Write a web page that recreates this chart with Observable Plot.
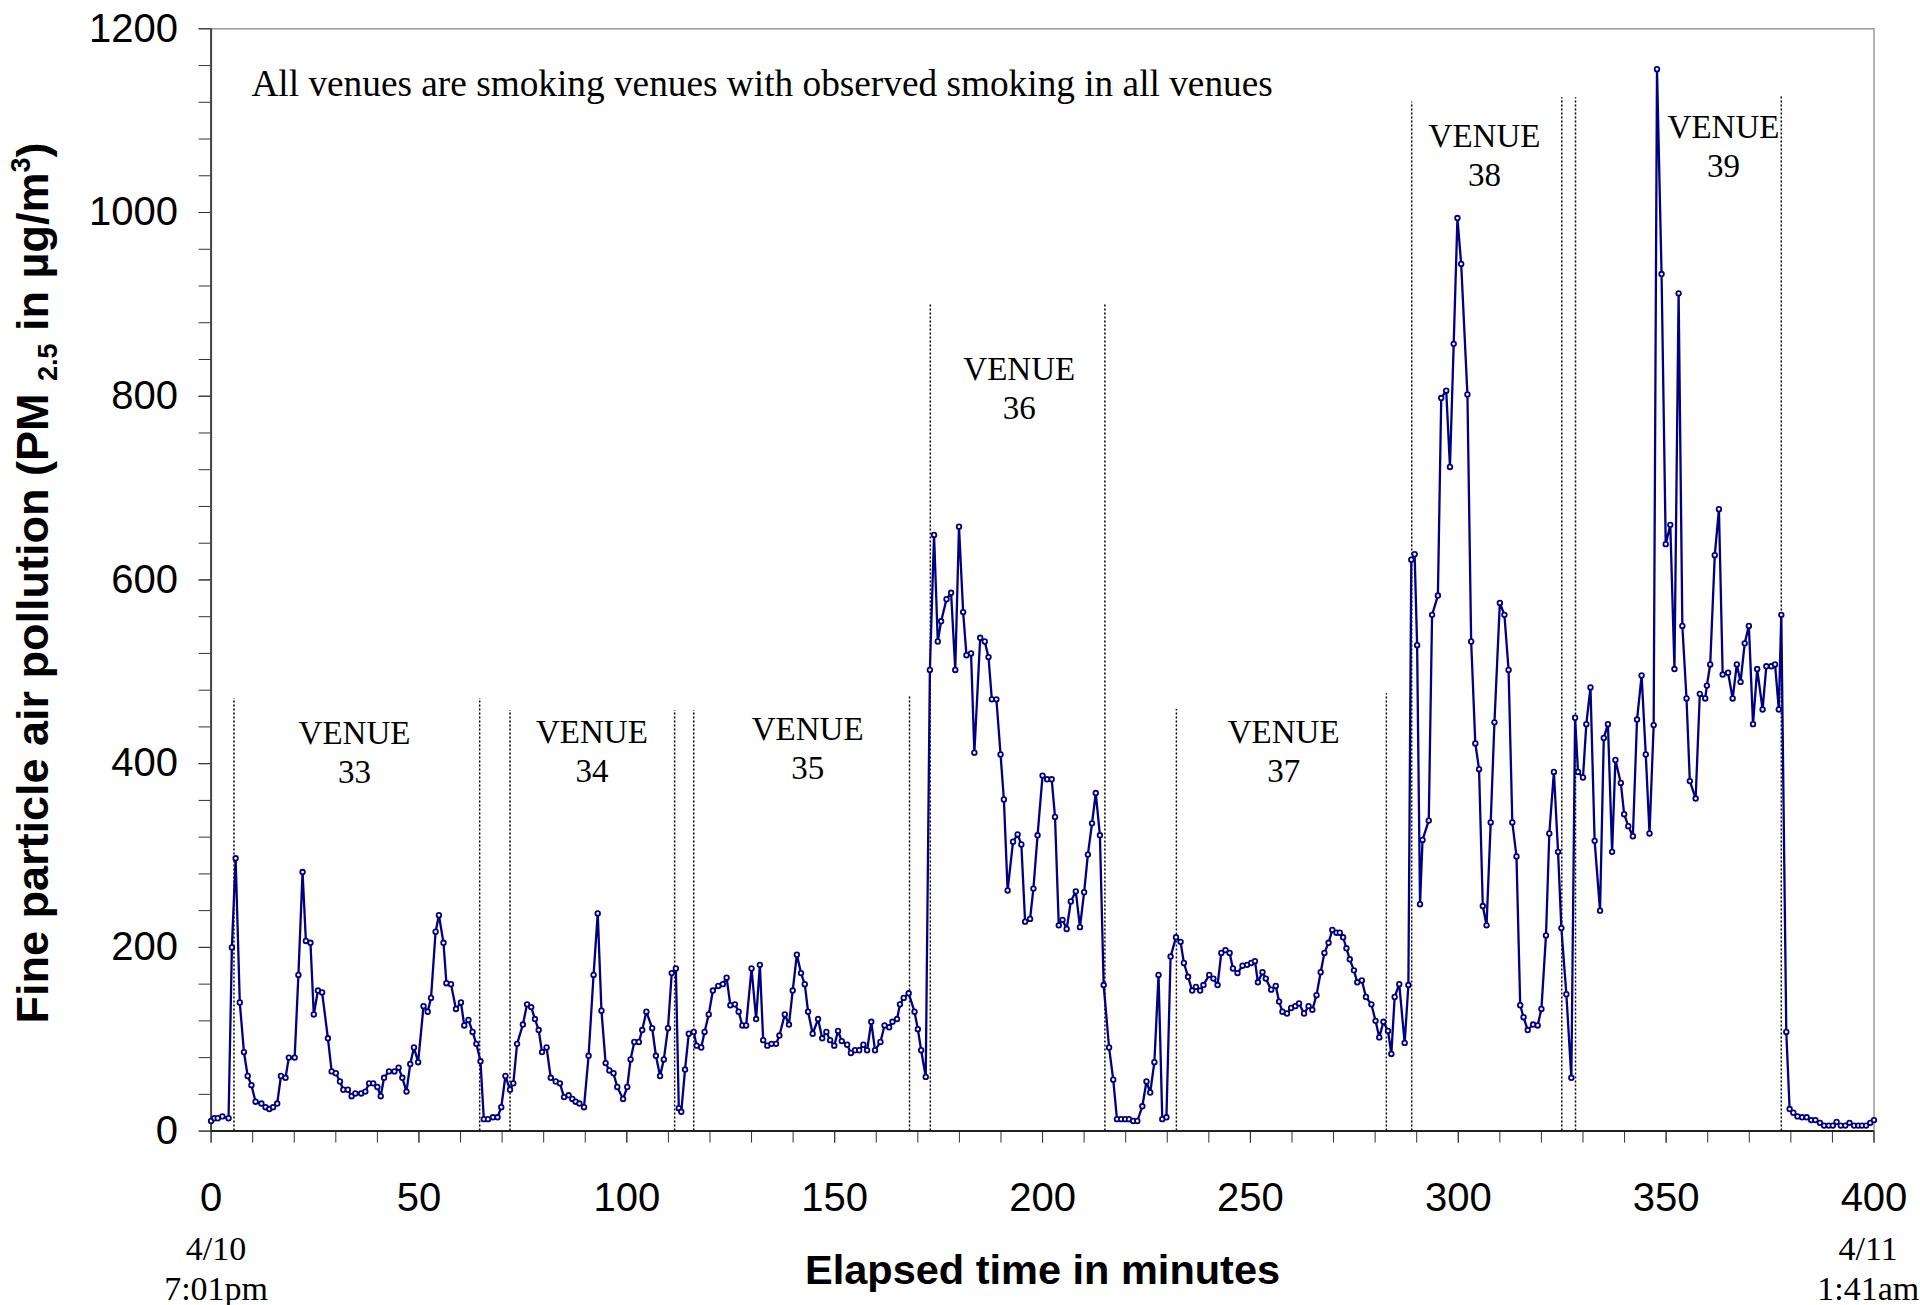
<!DOCTYPE html>
<html><head><meta charset="utf-8">
<script src="https://cdn.jsdelivr.net/npm/d3@7"></script>
<script src="https://cdn.jsdelivr.net/npm/@observablehq/plot@0.6"></script>
<style>html,body{margin:0;padding:0;background:#fff;} svg{display:block}</style>
</head><body><div id="chart"></div>
<script>
const elapsedMinutes = [0,0.8,1.6,2.7,4.2,5.0,5.9,6.9,7.9,8.8,9.7,10.7,12.1,13.1,14.0,14.9,15.9,16.8,17.9,18.7,20.1,21.0,22.0,22.8,23.9,24.7,25.7,26.7,28.1,29.0,30.0,31.0,31.8,32.9,33.8,34.7,36.1,37.1,38.0,39.0,40.0,40.8,41.6,42.8,44.1,45.1,46.0,47.0,47.9,48.8,49.8,51.1,52.1,52.9,54.0,54.8,55.9,56.6,57.7,58.9,60.1,60.9,61.9,62.9,63.8,64.8,65.6,66.6,67.8,68.9,69.8,70.8,71.9,72.7,73.6,75.0,76.0,77.0,77.9,78.8,79.6,80.7,81.7,82.9,83.9,84.9,86.0,86.9,87.7,88.6,89.7,90.8,92.0,93.0,93.9,94.9,95.8,96.8,97.7,99.1,100.1,100.9,101.8,102.9,103.7,104.7,106.1,107.0,108.0,108.9,109.9,110.8,111.8,112.5,113.1,114.0,114.9,116.1,116.8,117.9,118.7,119.7,120.7,122.0,123.1,124.0,124.9,126.0,126.9,127.8,128.7,130.0,131.1,132.0,132.8,133.8,134.8,135.9,136.7,138.0,139.0,139.9,140.9,141.9,142.8,143.6,144.7,146.0,147.0,148.0,148.9,149.9,150.8,151.7,153.0,153.9,154.9,155.9,156.9,157.8,158.8,159.7,161.0,162.0,163.1,163.9,165.0,165.7,166.6,167.8,169.2,170.0,170.8,171.9,172.9,173.9,174.8,175.6,176.9,178.0,179.0,179.9,180.9,181.7,182.8,183.6,185.0,186.1,187.0,187.8,188.9,189.9,190.7,191.6,192.9,194.0,194.9,195.8,197.0,197.8,198.8,200.0,201.1,202.2,203.0,203.9,204.8,205.8,206.8,208.0,209.0,210.0,210.9,211.9,212.8,213.8,214.7,216.0,217.0,217.9,218.9,219.9,220.8,221.8,222.8,224.0,225.0,225.9,226.9,227.9,228.8,229.8,230.8,232.1,233.2,234.0,235.0,236.0,236.9,237.9,238.7,240.1,241.1,242.1,243.0,244.0,245.0,245.8,246.9,248.1,249.2,250.2,251.1,251.8,252.9,253.7,255.0,256.1,256.9,257.7,258.8,259.8,260.8,261.7,262.9,264.0,264.9,265.9,266.9,267.8,268.8,269.7,270.7,271.5,272.3,273.1,273.9,274.9,275.7,276.8,277.8,279.1,280.1,281.0,282.0,283.1,283.9,284.7,285.8,287.1,288.0,288.7,289.5,290.1,290.8,291.4,292.9,293.7,295.1,295.9,297.1,298.0,298.9,299.8,300.7,302.2,303.1,304.1,305.0,305.9,306.8,307.8,308.7,310.0,311.1,312.1,313.0,314.0,314.9,315.7,316.7,318.0,319.1,320.0,321.1,321.9,323.0,324.0,324.8,326.0,327.2,328.1,328.8,330.0,330.8,331.8,332.8,334.1,335.0,336.0,337.0,337.8,339.1,339.9,340.9,342.0,343.0,344.1,345.1,346.0,347.0,347.8,348.9,349.9,351.0,352.0,353.0,353.9,354.9,355.7,357.1,358.1,359.4,359.8,360.6,361.7,362.7,363.6,364.9,366.0,367.0,367.9,368.9,369.9,370.9,371.9,373.2,374.1,375.3,376.2,377.1,377.7,378.9,379.7,380.6,381.6,382.7,383.8,384.9,385.9,387.0,388.0,389.1,390.1,391.0,392.0,393.1,394.1,395.2,396.2,397.1,398.1,399.1,400.0];
const pm25 = [11,14,14,16,14,200,297,140,86,60,50,32,30,26,24,26,30,60,58,80,80,170,282,207,205,127,153,151,101,65,63,54,45,45,38,41,41,43,52,52,48,38,58,65,65,69,58,43,73,91,75,136,130,145,217,235,205,161,160,133,140,115,121,108,95,76,13,13,15,15,26,60,45,52,95,116,138,135,122,110,86,91,58,54,52,37,39,35,32,30,26,82,170,237,131,74,66,63,48,35,48,78,97,97,110,130,112,82,60,78,112,172,177,25,21,67,106,108,93,91,108,127,153,158,160,167,137,138,130,115,115,177,122,181,99,93,95,95,104,127,116,153,192,172,160,130,106,122,101,108,99,93,109,98,94,85,88,88,94,88,119,88,97,115,113,119,122,138,145,150,130,111,88,59,502,649,533,555,579,586,502,658,565,518,520,412,537,533,516,470,470,410,361,262,315,323,312,228,231,264,322,387,383,383,342,224,230,220,250,261,222,260,301,335,368,322,159,91,56,13,13,13,13,11,11,27,54,42,75,170,13,15,190,211,206,183,168,153,157,153,159,170,166,159,194,197,194,177,172,180,181,183,185,162,173,166,154,158,141,130,128,134,136,139,128,136,132,148,173,194,205,219,216,216,211,199,187,175,162,164,146,138,120,102,119,109,84,146,160,96,159,622,628,529,247,317,338,562,583,798,806,723,857,994,944,802,533,422,394,245,224,336,445,575,562,502,336,299,137,124,110,116,115,133,213,324,391,304,221,149,58,450,391,385,443,483,316,240,428,443,304,404,379,345,332,321,448,496,410,324,442,1156,933,639,660,503,912,550,471,381,362,476,471,485,508,627,677,497,499,471,508,489,531,550,443,503,459,506,506,508,459,562,108,24,20,16,15,15,12,12,9,6,6,6,10,6,6,9,6,6,6,6,9,12];

const xMajorTicks = [0,50,100,150,200,250,300,350,400];
const xMinorTicks = [0,10,20,30,40,50,60,70,80,90,100,110,120,130,140,150,160,170,180,190,200,210,220,230,240,250,260,270,280,290,300,310,320,330,340,350,360,370,380,390,400];
const yMajorTicks = [0,200,400,600,800,1000,1200];
const yMinorTicks = [0,40,80,120,160,200,240,280,320,360,400,440,480,520,560,600,640,680,720,760,800,840,880,920,960,1000,1040,1080,1120,1160,1200];

const venueNames = ["33","34","35","36","37","38","39"];
const venueLabelX = [34.5, 91.6, 143.5, 194.4, 258, 306.3, 363.8];
const venueLabelY = [414, 415, 418, 810, 415, 1064, 1073];
const boundaryMinutes = [5.5, 64.6, 71.9, 111.5, 116.1, 168.0, 173.0, 215.0, 232.2, 282.7, 288.8, 324.9, 328.2, 377.7];
const boundaryTops = [471, 471, 458, 458, 458, 474, 900, 900, 459, 476, 1120, 1125, 1125, 1127];

const noteText = "All venues are smoking venues with observed smoking in all venues";
const noteX = 9.7, noteY = 1140;
const dateLabels = ["4/10\n7:01pm", "4/11\n1:41am"];
const dateX = [1.2, 398.6];
const xTitle = "Elapsed time in minutes";

const data = elapsedMinutes.map((t, i) => ({t, v: pm25[i]}));
const venues = venueNames.map((n, i) => ({x: venueLabelX[i], y: venueLabelY[i], text: "VENUE\n" + n}));
const bounds = boundaryMinutes.map((x, i) => ({x, y1: 0, y2: boundaryTops[i]}));
const notes = [{x: noteX, y: noteY, text: noteText}];
const dates = dateLabels.map((text, i) => ({x: dateX[i], text}));

const serif = "'Liberation Serif', 'Times New Roman', serif";
const sans = "'Liberation Sans', Arial, sans-serif";

const chart = Plot.plot({
  width: 1920, height: 1305,
  marginLeft: 210.6, marginRight: 46.5, marginTop: 28.3, marginBottom: 174.4,
  style: {fontFamily: sans, background: "#fff", color: "#000", overflow: "visible"},
  x: {domain: [0, 400], label: null},
  y: {domain: [0, 1200], label: null},
  marks: [
    Plot.frame({stroke: "#9a9a9a", strokeWidth: 1.5}),
    Plot.ruleX(bounds, {x: "x", y1: "y1", y2: "y2", stroke: "#000", strokeWidth: 1.5, strokeDasharray: "2,2"}),
    Plot.axisY({ticks: yMinorTicks, tickSize: 12, tickFormat: () => "", label: null, stroke: "#333"}),
    Plot.axisY({ticks: yMajorTicks, tickSize: 12, tickPadding: 21, fontSize: 40, tickFormat: d => String(d), label: null, stroke: "#333"}),
    Plot.axisX({ticks: xMinorTicks, tickSize: 12, tickFormat: () => "", label: null, stroke: "#333"}),
    Plot.axisX({ticks: xMajorTicks, tickSize: 12, tickPadding: 39, fontSize: 40, tickFormat: d => String(d), label: null, stroke: "#333"}),
    Plot.ruleX([0], {stroke: "#444", strokeWidth: 2}),
    Plot.ruleY([0], {stroke: "#222", strokeWidth: 2}),
    Plot.line(data, {x: "t", y: "v", stroke: "#000080", strokeWidth: 2.3}),
    Plot.dot(data, {x: "t", y: "v", r: 2.3, stroke: "#000080", fill: "#fff", strokeWidth: 1.8}),
    Plot.text(venues, {x: "x", y: "y", text: "text", fontFamily: serif, fontSize: 33, lineHeight: 1.18, fill: "#000"}),
    Plot.text(notes, {x: "x", y: "y", text: "text", textAnchor: "start", fontFamily: serif, fontSize: 37.3, fill: "#000"}),
    Plot.text(dates, {x: "x", text: "text", frameAnchor: "bottom", lineAnchor: "top", dy: 101, fontFamily: serif, fontSize: 34, lineHeight: 1.17, fill: "#000"}),
    Plot.text([xTitle], {text: d => d, frameAnchor: "bottom", lineAnchor: "middle", dy: 140, fontWeight: "bold", fontSize: 41.5, fill: "#000"})
  ]
});

// y-axis title with subscript/superscript
const svg = d3.select(chart);
const yt = svg.append("text")
  .attr("transform", "translate(48,583) rotate(-90)")
  .attr("text-anchor", "middle")
  .attr("font-family", sans)
  .attr("font-weight", "bold")
  .attr("font-size", 45)
  .attr("fill", "#000");
yt.append("tspan").text("Fine particle air pollution (PM ");
yt.append("tspan").attr("font-size", 27).attr("dy", 9).text("2.5");
yt.append("tspan").attr("dy", -9).text(" in µg/m");
yt.append("tspan").attr("font-size", 27).attr("dy", -18).text("3");
yt.append("tspan").attr("dy", 18).text(")");

document.getElementById("chart").append(chart);
</script>
</body></html>
